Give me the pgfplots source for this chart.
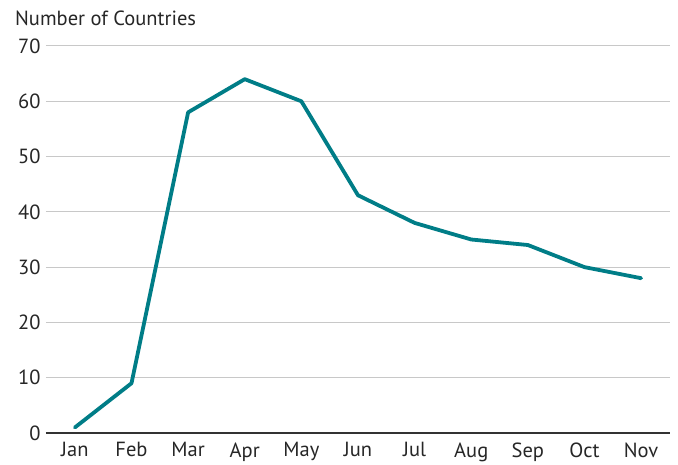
\documentclass[border=0pt]{standalone}
\usepackage{pgfplots}
\pgfplotsset{compat=1.18}
\usepackage{fontspec}
\setmainfont{PT Sans}
\definecolor{teal1}{HTML}{007D87}
\definecolor{gridc}{HTML}{C8C8C8}
\begin{document}
\begin{tikzpicture}[font=\fontsize{20.5}{24}\selectfont]
\begin{axis}[name=ax,
  scale only axis, width=624pt, height=387pt,
  xmin=-0.51, xmax=10.51, ymin=0, ymax=70,
  axis lines*=left, axis line style={draw=none},
  xtick={0,...,10},
  xticklabels={Jan,Feb,Mar,Apr,May,Jun,Jul,Aug,Sep,Oct,Nov},
  ytick={0,10,...,70},
  ymajorgrids, grid style={gridc, line width=1pt},
  major tick length=0pt,
  tick label style={font=\fontsize{20.5}{24}\selectfont, text=black!85},
  /pgf/number format/assume math mode=true,
  yticklabel style={xshift=-2pt},
  xticklabel style={yshift=-6pt},
  clip=false,
]
\draw[black!80, line width=1.3pt] (axis cs:-0.51,0) -- (axis cs:10.51,0);
\addplot[teal1, line width=3.8pt, line join=round, line cap=round] coordinates {
(0,1) (1,9) (2,58) (3,64) (4,60) (5,43) (6,38) (7,35) (8,34) (9,30) (10,28)};
\end{axis}
\node[anchor=west, inner sep=0pt, text=black!85] at ([xshift=-31pt, yshift=28pt]ax.north west) {Number of Countries};
\path ([xshift=-46pt, yshift=-29pt]ax.south west) rectangle ([xshift=8pt, yshift=46pt]ax.north east);
\end{tikzpicture}
\end{document}
